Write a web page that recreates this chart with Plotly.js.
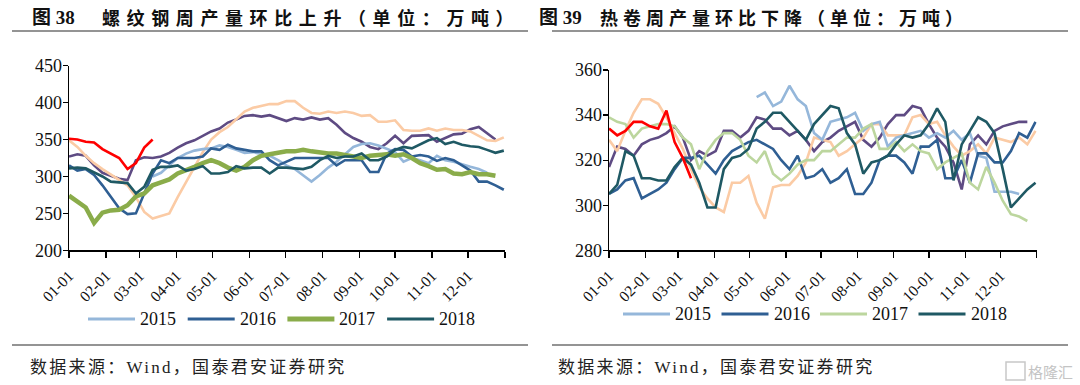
<!DOCTYPE html>
<html><head><meta charset="utf-8">
<script src="https://cdn.plot.ly/plotly-3.0.1.min.js"></script>
<style>html,body{margin:0;padding:0;background:#fff}</style>
</head><body><div id="chart" style="width:1080px;height:385px"></div>
<script>
// ---------- categories / labels ----------
const monthLabels = ['01-01','02-01','03-01','04-01','05-01','06-01','07-01','08-01','09-01','10-01','11-01','12-01'];
const legendYears = ['2015','2016','2017','2018'];
const leftTitleNo = '图 38';
const leftTitle = '螺纹钢周产量环比上升（单位：万吨）';
const rightTitleNo = '图 39';
const rightTitle = '热卷周产量环比下降（单位：万吨）';
const sourceText = '数据来源：Wind，国泰君安证券研究';

// ---------- rebar weekly output (left), start week index ----------
const rebar2013Start = 0;
const rebar2013 = [327,330,328,315,305,301,297,295,322,326,325,327,332,339,345,349,355,361,365,373,377,382,383,381,383,379,375,379,377,380,377,379,370,359,352,347,340,337,345,355,345,355,355,356,347,352,357,358,364,367,359,350];
const rebar2014Start = 0;
const rebar2014 = [349,340,328,318,310,303,296,288,272,252,243,246,250,272,293,313,333,350,360,367,378,388,393,395,398,398,402,402,393,386,385,388,386,388,386,382,383,374,374,376,363,362,362,365,362,365,363,363,361,355,349,348,353];
const rebar2015Start = 10;
const rebar2015 = [300,305,315,325,331,335,337,338,342,340,336,332,333,330,328,322,315,310,302,293,302,312,320,330,340,344,345,342,338,333,320,325,322,318,328,322,320,316,313,310,305];
const rebar2016Start = 0;
const rebar2016 = [315,308,310,302,288,273,257,249,250,277,304,322,318,325,325,325,327,338,336,343,338,336,334,334,322,315,320,325,325,325,325,325,315,322,322,322,306,306,331,337,336,327,329,327,321,325,322,315,308,293,293,288,282];
const rebar2017Start = 0;
const rebar2017 = [274,266,258,237,251,254,255,261,273,277,288,292,296,304,308,313,318,322,318,312,308,313,322,328,330,332,334,334,336,334,332,331,331,329,326,325,328,329,330,328,330,325,318,314,309,310,304,303,306,303,303,301];
const rebar2018Start = 0;
const rebar2018 = [311,312,311,306,300,293,292,291,277,286,309,313,313,315,308,310,314,304,304,306,314,311,312,312,304,312,312,311,310,313,322,328,325,327,327,331,322,322,327,336,340,338,344,349,352,344,347,343,341,340,336,332,335];
const rebar2019Start = 0;
const rebar2019 = [351,350,347,346,337,331,325,310,318,339,350];

// ---------- hot-rolled coil weekly output (right) ----------
const coil2013Start = 0;
const coil2013 = [317,326,325,322,327,329,330,332,335,330,320,324,322,324,333,333,330,333,339,338,334,334,331,333,329,324,328,330,333,335,337,329,326,330,336,340,340,344,343,336,330,326,319,307,327,331,327,333,335,336,337,337];
const coil2014Start = 0;
const coil2014 = [329,324,333,341,347,347,345,339,332,325,316,308,303,299,297,310,310,313,301,294,308,309,309,313,319,330,329,328,322,324,327,330,336,336,331,331,331,339,340,336,337,331,326,322,324,327,323,330,329,328,330,327,333];
const coil2015Start = 18;
const coil2015 = [348,350,344,346,353,347,344,332,329,337,338,339,341,333,336,337,326,330,331,332,333,330,332,330,333,329,332,322,321,306,306,306,305];
const coil2016Start = 0;
const coil2016 = [305,307,311,312,303,305,307,310,316,321,321,322,318,314,320,324,326,328,329,327,325,320,316,322,312,313,316,310,312,316,305,305,310,320,322,322,319,314,326,326,329,312,312,320,310,323,323,319,319,324,332,330,337];
const coil2017Start = 0;
const coil2017 = [339,337,336,330,334,335,336,336,335,330,327,316,324,329,332,332,329,322,319,324,314,311,314,318,320,320,324,324,327,330,330,334,336,325,325,328,324,327,324,323,316,319,321,323,310,307,317,310,302,296,295,293];
const coil2018Start = 0;
const coil2018 = [305,309,324,322,312,312,311,311,317,321,318,310,299,299,316,321,322,325,334,337,341,341,337,333,329,336,340,344,343,332,327,314,319,320,322,327,331,330,331,336,343,337,311,327,333,339,337,332,316,299,303,307,310];
const coil2019Start = 0;
const coil2019 = [334,331,333,337,337,335,334,342,328,321,312];

// ---------- helpers ----------
function weekDates(start, n){
  const out=[];
  for(let i=0;i<n;i++){
    const d=new Date(Date.UTC(2001,0,1+7*(start+i)));
    out.push(d.toISOString().slice(0,10));
  }
  return out;
}
const tickVals=[]; for(let m=0;m<=12;m++){tickVals.push(new Date(Date.UTC(2001,m,1)).toISOString().slice(0,10));}
const tickText = monthLabels.concat(['']);

const colors = {
  '2013':'#5e4b83','2014':'#fbcba5','2015':'#95b7da','2016':'#2f5f93',
  '2017L':'#8aac4a','2017R':'#bcd69e','2018':'#1f5964','2019':'#ff0000'
};

function tr(name, vals, start, color, width, xa, ya){
  return {type:'scatter', mode:'lines', name:name, x:weekDates(start, vals.length), y:vals,
    line:{color:color, width:width}, xaxis:xa, yaxis:ya, showlegend:false, hoverinfo:'skip'};
}

const data = [
  tr('2013', rebar2013, rebar2013Start, colors['2013'], 2.6, 'x','y'),
  tr('2014', rebar2014, rebar2014Start, colors['2014'], 2.6, 'x','y'),
  tr('2015', rebar2015, rebar2015Start, colors['2015'], 2.6, 'x','y'),
  tr('2016', rebar2016, rebar2016Start, colors['2016'], 2.6, 'x','y'),
  tr('2017', rebar2017, rebar2017Start, colors['2017L'], 4.5, 'x','y'),
  tr('2018', rebar2018, rebar2018Start, colors['2018'], 2.6, 'x','y'),
  tr('2019', rebar2019, rebar2019Start, colors['2019'], 2.6, 'x','y'),
  tr('2013', coil2013, coil2013Start, colors['2013'], 2.6, 'x2','y2'),
  tr('2014', coil2014, coil2014Start, colors['2014'], 2.6, 'x2','y2'),
  tr('2015', coil2015, coil2015Start, colors['2015'], 2.6, 'x2','y2'),
  tr('2016', coil2016, coil2016Start, colors['2016'], 2.6, 'x2','y2'),
  tr('2017', coil2017, coil2017Start, colors['2017R'], 2.6, 'x2','y2'),
  tr('2018', coil2018, coil2018Start, colors['2018'], 2.6, 'x2','y2'),
  tr('2019', coil2019, coil2019Start, colors['2019'], 2.6, 'x2','y2')
];

const W=1080, H=385;
const px = v => v/W;
const py = v => 1 - v/H;
const serif = 'Liberation Serif, Noto Sans CJK SC, serif';

function xAxis(dom, anchor){
  return {domain:dom, anchor:anchor, type:'date', range:['2001-01-01','2002-01-01'],
    tickmode:'array', tickvals:tickVals, ticktext:tickText, tickangle:-45,
    ticks:'outside', ticklen:6, tickwidth:1.3, tickcolor:'#000',
    showline:true, linecolor:'#000', linewidth:1.5, showgrid:false, zeroline:false,
    ticklabelstandoff:3,
    tickfont:{family:serif, size:15.5, color:'#111'}};
}
function yAxis(dom, anchor, range, dtick){
  return {domain:dom, anchor:anchor, range:range, dtick:dtick, tick0:range[0],
    ticks:'outside', ticklen:5, tickwidth:1.3, tickcolor:'#000',
    showline:true, linecolor:'#000', linewidth:1.5, showgrid:false, zeroline:false,
    ticklabelstandoff:-3,
    tickfont:{family:serif, size:18, color:'#111'}};
}

const shapes=[], annotations=[];
// title rules & bottom rules
[[12,528],[552,1068]].forEach(([a,b])=>{
  shapes.push({type:'line', xref:'paper', yref:'paper', x0:px(a), x1:px(b), y0:py(31), y1:py(31), line:{color:'#707070', width:1.5}});
  shapes.push({type:'line', xref:'paper', yref:'paper', x0:px(a), x1:px(b), y0:py(345), y1:py(345), line:{color:'#707070', width:1.5}});
});
function title(x, no, tx, txt, spacing){
  annotations.push({xref:'paper', yref:'paper', x:px(x), y:py(17), xanchor:'left', yanchor:'middle', showarrow:false,
    text:'<b>'+no+'</b>', font:{family:serif, size:19, color:'#111'}});
  annotations.push({xref:'paper', yref:'paper', x:px(tx), y:py(17), xanchor:'left', yanchor:'middle', showarrow:false,
    text:'<b><span style="letter-spacing:'+spacing+'px">'+txt+'</span></b>', font:{family:'Noto Sans CJK SC, sans-serif', size:18, color:'#111'}});
}
title(30, leftTitleNo, 100, leftTitle, 6.6);
title(537, rightTitleNo, 598, rightTitle, 5);
[[28],[556]].forEach(([x])=>{
  annotations.push({xref:'paper', yref:'paper', x:px(x), y:py(367), xanchor:'left', yanchor:'middle', showarrow:false,
    text:'<span style="letter-spacing:2.3px">'+sourceText+'</span>', font:{family:serif, size:17, color:'#222'}});
});
// legends
function legend(x0, y, step, colorList, widths){
  legendYears.forEach((yr,i)=>{
    const xs = x0 + i*step;
    shapes.push({type:'line', xref:'paper', yref:'paper', x0:px(xs), x1:px(xs+47), y0:py(y), y1:py(y), line:{color:colorList[i], width:widths[i]}});
    annotations.push({xref:'paper', yref:'paper', x:px(xs+50), y:py(y), xanchor:'left', yanchor:'middle', showarrow:false,
      text:yr, font:{family:serif, size:18, color:'#111'}});
  });
}
legend(88, 319, 99.7, [colors['2015'],colors['2016'],colors['2017L'],colors['2018']], [3,3,5,3]);
legend(623, 314, 98.5, [colors['2015'],colors['2016'],colors['2017R'],colors['2018']], [3,3,3,3]);
// watermark
shapes.push({type:'rect', xref:'paper', yref:'paper', x0:px(1006), x1:px(1025), y0:py(362), y1:py(380), line:{color:'#c8c8c8', width:1.5}});
annotations.push({xref:'paper', yref:'paper', x:px(1075), y:py(371), xanchor:'right', yanchor:'middle', showarrow:false,
  text:'格隆汇', font:{family:'Noto Sans CJK SC, sans-serif', size:15, color:'#c4c4c4'}});

const layout = {
  width:W, height:H, margin:{l:0,r:0,t:0,b:0}, paper_bgcolor:'#fff', plot_bgcolor:'rgba(0,0,0,0)',
  showlegend:false,
  xaxis: xAxis([px(69), px(505)], 'y'),
  yaxis: yAxis([1-250.3/H, 1-65.7/H], 'x', [200,450], 50),
  xaxis2: xAxis([px(609), px(1036.7)], 'y2'),
  yaxis2: yAxis([1-250.3/H, 1-70/H], 'x2', [280,360], 20),
  shapes:shapes, annotations:annotations
};
Plotly.newPlot('chart', data, layout, {staticPlot:true, displayModeBar:false});
</script></body></html>
